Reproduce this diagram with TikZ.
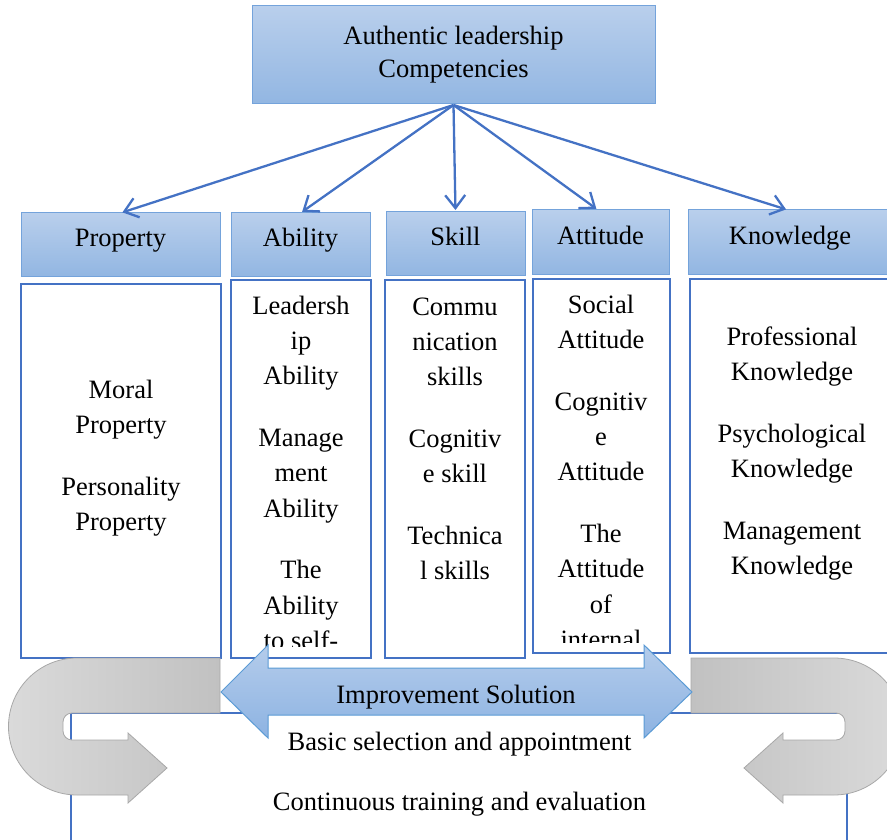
\documentclass[tikz,border=0pt]{standalone}
\usepackage{fontspec}
\setmainfont{Liberation Serif}
\usetikzlibrary{arrows.meta}
\definecolor{edgeblue}{HTML}{4472C4}
\definecolor{hdrtop}{HTML}{B9CFEC}
\definecolor{hdrbot}{HTML}{92B6E2}
\definecolor{hdredge}{HTML}{74A3DB}
\definecolor{graylight}{HTML}{DADADA}
\definecolor{graydark}{HTML}{C1C1C1}
\definecolor{grayedge}{HTML}{A8A8A8}
\definecolor{arrtop}{HTML}{B4CCEB}
\definecolor{arrbot}{HTML}{8DB3E2}
\definecolor{arredge}{HTML}{5B9BD5}
\begin{document}
\begin{tikzpicture}[x=1pt,y=-1pt,
  every node/.style={font=\fontsize{26.5}{35.3}\selectfont, inner sep=0pt, outer sep=0pt},
  hdr/.style={draw=hdredge, line width=1pt, top color=hdrtop, bottom color=hdrbot, text height=12pt, text depth=7pt},
  topbox/.style={draw=hdredge, line width=1pt, top color=hdrtop, bottom color=hdrbot, align=center, font=\fontsize{26.5}{33}\selectfont},
  colbox/.style={draw=edgeblue, line width=2.2pt, fill=white},
  coltext/.style={anchor=base},
  link/.style={draw=edgeblue, line width=2.3pt, shorten >=2pt, -{Straight Barb[length=13pt,width=20pt]}},
  uleft/.style={draw=grayedge, line width=0.8pt, left color=graylight, right color=graydark},
  uright/.style={draw=grayedge, line width=0.8pt, left color=graydark, right color=graylight},
  dblarrow/.style={draw=arredge, line width=1pt, top color=arrtop, bottom color=arrbot}
]
\useasboundingbox (0,0) rectangle (887,840);
\clip (0,0) rectangle (887,840);

% top box
\node[topbox, minimum width=403pt, minimum height=98pt] (top) at (453.5,55) {Authentic leadership\\Competencies};

% headers
\node[hdr, minimum width=199pt, minimum height=63pt] (propH) at (120.5,244.5) {Property};
\node[hdr, minimum width=139pt, minimum height=63pt] (abilH) at (300.5,244.5) {Ability};
\node[hdr, minimum width=139pt, minimum height=63pt] (skillH) at (455.5,243.5) {Skill};
\node[hdr, minimum width=137pt, minimum height=64pt] (attH) at (600.5,242) {Attitude};
\node[hdr, minimum width=204pt, minimum height=64pt] (knowH) at (790,242) {Knowledge};

% connectors
\draw[link] ([yshift=-1pt]top.south) -- (propH.north);
\draw[link] ([yshift=-1pt]top.south) -- (abilH.north);
\draw[link] ([yshift=-1pt]top.south) -- (skillH.north);
\draw[link] ([yshift=-1pt]top.south) -- ([xshift=-2.5pt]attH.north);
\draw[link] ([yshift=-1pt]top.south) -- ([xshift=-2pt]knowH.north);

% content boxes
\node[colbox, minimum width=200pt, minimum height=374pt] (propC) at (121,471) {};
\node[colbox, minimum width=140pt, minimum height=378pt] (abilC) at (301,469) {};
\node[colbox, minimum width=140pt, minimum height=378pt] (skillC) at (455,469) {};
\node[colbox, minimum width=137pt, minimum height=374pt] (attC) at (601.5,466) {};
\node[colbox, minimum width=205pt, minimum height=374pt] (knowC) at (792.5,466) {};

% column texts
\node[coltext] (propT) at (121,398) {\parbox[t]{190pt}{\centering Moral\\Property\\[26.5pt]Personality\\Property}};
\begin{scope}
\clip (232,281) rectangle (370,646);
\node[coltext] (abilT) at (301,314) {\parbox[t]{134pt}{\centering Leadersh\\ip\\Ability\\[26.5pt]Manage\\ment\\Ability\\[26.5pt]The\\Ability\\to self-}};
\end{scope}
\node[coltext] (skillT) at (455,315) {\parbox[t]{134pt}{\centering Commu\\nication\\skills\\[26.5pt]Cognitiv\\e skill\\[26.5pt]Technica\\l skills}};
\begin{scope}
\clip (534,280) rectangle (669,642);
\node[coltext] (attT) at (601,313) {\parbox[t]{132pt}{\centering Social\\Attitude\\[26.5pt]Cognitiv\\e\\Attitude\\[26.5pt]The\\Attitude\\of\\internal}};
\end{scope}
\node[coltext] (knowT) at (792,345) {\parbox[t]{196pt}{\centering Professional\\Knowledge\\[26.5pt]Psychological\\Knowledge\\[26.5pt]Management\\Knowledge}};

% bottom solution box
\node[colbox, line width=2pt, minimum width=776pt, minimum height=160pt, anchor=north west] (solbox) at (71,713) {};

% gray U-turn arrows
\path[uleft] (220,658) -- (77,658) arc[start angle=270,end angle=90,radius=68.5]
  -- (128,795) -- (128,803) -- (167,768) -- (128,733) -- (128,740)
  -- (72,740) arc[start angle=90,end angle=180,radius=9]
  -- (63,722) arc[start angle=180,end angle=270,radius=9]
  -- (220,713) -- cycle;
\path[uright] (691,658) -- (834,658) arc[start angle=270,end angle=450,radius=68.5]
  -- (783,795) -- (783,803) -- (744,768) -- (783,733) -- (783,740)
  -- (836,740) arc[start angle=90,end angle=0,radius=9]
  -- (845,722) arc[start angle=0,end angle=-90,radius=9]
  -- (691,713) -- cycle;

% double arrow
\path[dblarrow] (221,692) -- (268,645) -- (268,668) -- (644,668) -- (644,645)
  -- (692,692) -- (644,738) -- (644,715) -- (268,715) -- (268,738) -- cycle;
\node[anchor=base] (imp) at (456,703) {Improvement Solution};
\node[anchor=base] (basic) at (459.5,750) {Basic selection and appointment};
\node[anchor=base] (cont) at (459.5,810) {Continuous training and evaluation};
\end{tikzpicture}
\end{document}
